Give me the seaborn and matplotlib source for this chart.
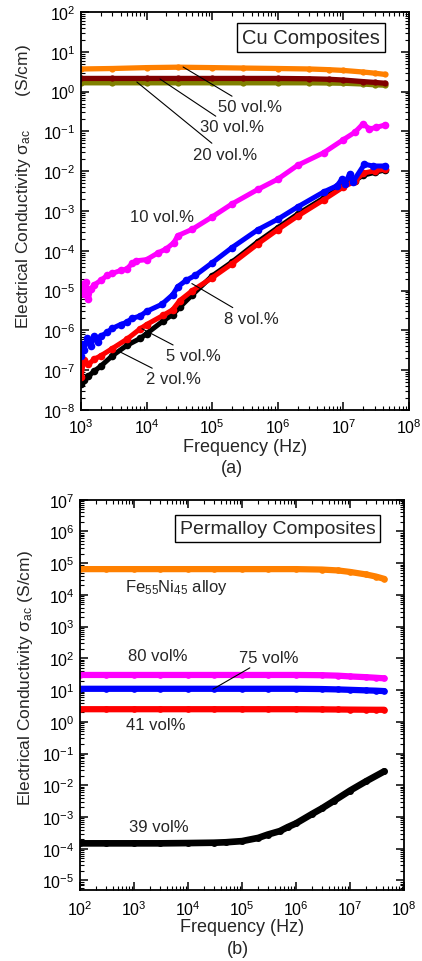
import numpy as np
import pandas as pd
import matplotlib
matplotlib.use("Agg")
import matplotlib.pyplot as plt
import matplotlib.ticker as mticker
import seaborn as sns

# ---------- datos panel (a): compuestos de Cu ----------
freq_flat = [1e3, 3e3, 1e4, 3e4, 1e5, 3e5, 1e6, 3e6, 6e6, 1e7, 2e7, 3e7, 4.3e7]
cu_50 = [3.7, 3.8, 4.0, 4.1, 4.0, 3.9, 3.8, 3.7, 3.55, 3.4, 3.1, 2.9, 2.7]
cu_30 = [2.14, 2.14, 2.14, 2.14, 2.14, 2.14, 2.14, 2.1, 2.04, 1.95, 1.78, 1.7, 1.62]
cu_20 = [1.66, 1.66, 1.66, 1.66, 1.66, 1.66, 1.66, 1.66, 1.64, 1.62, 1.55, 1.48, 1.45]

freq_10 = [1.0e3, 1.03e3, 1.1e3, 1.2e3, 1.3e3, 1.4e3, 1.6e3, 2.0e3, 2.5e3, 3e3, 4e3,
           5e3, 6e3, 7e3, 1e4, 1.5e4, 2e4, 2.6e4, 3e4, 5e4, 1e5, 2e5, 5e5, 1e6, 2e6,
           5e6, 1e7, 1.5e7, 2e7, 2.5e7, 3.2e7, 4.3e7]
cu_10 = [8.9e-6, 1.5e-5, 8.0e-6, 1.6e-5, 6.0e-6, 1.1e-5, 1.4e-5, 1.8e-5, 2.4e-5, 2.7e-5,
         3.2e-5, 3.5e-5, 4.8e-5, 5.6e-5, 6.0e-5, 8.9e-5, 1.12e-4, 1.6e-4, 2.4e-4, 3.5e-4,
         7.1e-4, 1.5e-3, 3.5e-3, 6.3e-3, 1.4e-2, 2.9e-2, 6.2e-2, 9.5e-2, 0.155, 0.115,
         0.126, 0.145]

freq_8 = [1.0e3, 1.05e3, 1.1e3, 1.25e3, 1.4e3, 1.6e3, 1.8e3, 2.0e3, 2.5e3, 3e3, 4e3,
          5e3, 6e3, 8e3, 1e4, 1.7e4, 2.5e4, 3e4, 4e4, 5.5e4, 1e5, 2e5, 5e5, 1e6, 2e6,
          5e6, 8e6, 9.5e6, 1.05e7, 1.25e7, 1.4e7, 2.1e7, 2.8e7, 4.3e7]
cu_8 = [2.3e-7, 4.5e-7, 3.2e-7, 6.3e-7, 4.0e-7, 7.1e-7, 5.0e-7, 7.1e-7, 8.9e-7, 1.12e-6,
        1.4e-6, 1.6e-6, 2.0e-6, 2.3e-6, 3.0e-6, 4.5e-6, 7.9e-6, 1.26e-5, 1.8e-5, 2.4e-5,
        5.0e-5, 1.2e-4, 3.4e-4, 6.2e-4, 1.26e-3, 3.0e-3, 4.3e-3, 6.3e-3, 4.8e-3, 8.5e-3,
        5.4e-3, 1.5e-2, 1.35e-2, 1.35e-2]

freq_low = [1.0e3, 1.1e3, 1.3e3, 1.6e3, 2e3, 3e3, 5e3, 8e3, 1.0e4, 1.8e4, 2.5e4, 3.2e4,
            5e4, 1e5, 2e5, 5e5, 1e6, 2e6, 5e6, 1e7, 1.5e7, 2e7, 3e7, 4.3e7]
cu_5 = [6.8e-8, 1.8e-7, 1.4e-7, 1.9e-7, 2.3e-7, 3.5e-7, 6.0e-7, 1.1e-6, 1.4e-6, 2.4e-6,
        3.3e-6, 5.6e-6, 1.0e-5, 2.1e-5, 4.7e-5, 1.5e-4, 3.4e-4, 7.4e-4, 1.9e-3, 4.0e-3,
        5.6e-3, 8.9e-3, 1.02e-2, 1.12e-2]
cu_2 = [4.5e-8, 5.6e-8, 7.1e-8, 9.5e-8, 1.26e-7, 2.3e-7, 4.2e-7, 6.3e-7, 8.3e-7, 1.74e-6,
        2.5e-6, 3.8e-6, 7.9e-6, 2.34e-5, 5.2e-5, 1.7e-4, 3.8e-4, 8.3e-4, 2.1e-3, 4.3e-3,
        5.8e-3, 7.9e-3, 9.3e-3, 1.07e-2]

# ---------- datos panel (b): compuestos de Permalloy ----------
freq_py = [1e2, 3e2, 1e3, 3e3, 1e4, 3e4, 1e5, 3e5, 1e6, 3e6, 6e6, 1e7, 2e7, 3e7, 4.3e7]
py_alloy = [6.5e4, 6.5e4, 6.5e4, 6.5e4, 6.5e4, 6.5e4, 6.5e4, 6.5e4, 6.5e4, 6.3e4, 5.9e4,
            5.3e4, 4.4e4, 3.8e4, 3.2e4]
py_80 = [30, 30, 30, 30, 30, 30, 30, 30, 30, 29.5, 28.5, 27, 25.5, 24.5, 23.5]
py_75 = [11, 11, 11, 11, 11, 11, 11, 11, 11, 10.8, 10.5, 10.2, 9.8, 9.6, 9.3]
py_41 = [2.5, 2.5, 2.5, 2.5, 2.5, 2.5, 2.5, 2.5, 2.5, 2.47, 2.45, 2.43, 2.41, 2.4, 2.4]

freq_39 = [1e2, 3e2, 1e3, 3e3, 1e4, 3e4, 5e4, 1e5, 2e5, 3e5, 5e5, 7e5, 1e6, 2e6, 3e6,
           5e6, 1e7, 2e7, 4.3e7]
py_39 = [1.48e-4, 1.48e-4, 1.48e-4, 1.48e-4, 1.51e-4, 1.55e-4, 1.6e-4, 1.74e-4, 2.2e-4,
         2.8e-4, 3.6e-4, 4.8e-4, 6.3e-4, 1.26e-3, 1.86e-3, 3.2e-3, 6.8e-3, 1.35e-2, 2.75e-2]

# ---------- estilo ----------
sns.set_style("ticks")
plt.rcParams["font.family"] = ["Liberation Sans", "DejaVu Sans"]
plt.rcParams["mathtext.fontset"] = "custom"
plt.rcParams["mathtext.rm"] = "Liberation Sans"
plt.rcParams["mathtext.it"] = "Liberation Sans:italic"
plt.rcParams["axes.linewidth"] = 1.3

fig = plt.figure(figsize=(4.22, 9.62), dpi=100)
ax1 = fig.add_axes([0.192, 0.5728, 0.777, 0.4137])
ax2 = fig.add_axes([0.1896, 0.0738, 0.7678, 0.4057])


def curva(ax, f, s, color, lw, ms):
    df = pd.DataFrame({"f": f, "s": s})
    sns.lineplot(data=df, x="f", y="s", ax=ax, color=color, lw=lw, marker="o",
                 markersize=ms, markeredgewidth=0, estimator=None, sort=False)


def ejes(ax, xlim, ylim, pad_x=5):
    ax.set_xscale("log")
    ax.set_yscale("log")
    ax.set_xlim(*xlim)
    ax.set_ylim(*ylim)
    for eje in (ax.xaxis, ax.yaxis):
        eje.set_major_locator(mticker.LogLocator(base=10, numticks=30))
        eje.set_minor_locator(mticker.LogLocator(base=10, subs=np.arange(2, 10), numticks=30))
        eje.set_minor_formatter(mticker.NullFormatter())
    ax.tick_params(which="both", direction="in", top=True, right=True, labelsize=11.5,
                   colors="black")
    ax.tick_params(which="major", length=6, width=1.1, pad=4)
    ax.tick_params(axis="x", which="major", pad=pad_x)
    ax.tick_params(which="minor", length=3, width=0.8)
    for sp in ax.spines.values():
        sp.set_visible(True)
        sp.set_color("black")


# ---------- panel (a) ----------
curva(ax1, freq_flat, cu_20, "#808000", 3.8, 4.5)
curva(ax1, freq_flat, cu_30, "#800000", 3.8, 4.5)
curva(ax1, freq_flat, cu_50, "#FF8000", 3.8, 4.5)
curva(ax1, freq_low, cu_2, "black", 3.6, 5.5)
curva(ax1, freq_low, cu_5, "#FF0000", 3.6, 5.5)
curva(ax1, freq_8, cu_8, "#0000FF", 3.6, 5.5)
curva(ax1, freq_10, cu_10, "#FF00FF", 3.6, 5.5)
ejes(ax1, (1e3, 1e8), (1e-8, 1e2))
ax1.set_xlabel("Frequency (Hz)", fontsize=13, labelpad=2)
ax1.set_ylabel("Electrical Conductivity σ$_{\\mathrm{ac}}$       (S/cm)", fontsize=12.5)
ax1.yaxis.set_label_coords(-0.146, 0.565)

ax1.text(0.70, 0.935, "Cu Composites", transform=ax1.transAxes, fontsize=14.5,
         ha="center", va="center",
         bbox=dict(boxstyle="square,pad=0.25", fc="white", ec="black", lw=1))

linea = dict(arrowstyle="-", lw=0.8, color="black", shrinkA=0, shrinkB=0)
ax1.annotate("50 vol.%", xy=(3.6e4, 4.15), xytext=(1.23e5, 0.41), fontsize=12,
             va="center", ha="left", arrowprops=linea)
ax1.annotate("30 vol.%", xy=(1.6e4, 2.07), xytext=(6.5e4, 0.129), fontsize=12,
             va="center", ha="left", arrowprops=linea)
ax1.annotate("20 vol.%", xy=(7.1e3, 1.74), xytext=(5.1e4, 0.027), fontsize=12,
             va="center", ha="left", arrowprops=linea)
ax1.text(5.6e3, 7.4e-4, "10 vol.%", fontsize=12, va="center", ha="left")
ax1.annotate("8 vol.%", xy=(4.9e4, 1.5e-5), xytext=(1.5e5, 2.0e-6), fontsize=12,
             va="center", ha="left", arrowprops=linea)
ax1.annotate("5 vol.%", xy=(8.5e3, 1.1e-6), xytext=(2.0e4, 2.3e-7), fontsize=12,
             va="center", ha="left", arrowprops=linea)
ax1.annotate("2 vol.%", xy=(3.9e3, 2.9e-7), xytext=(9.8e3, 6.0e-8), fontsize=12,
             va="center", ha="left", arrowprops=linea)

# ---------- panel (b) ----------
curva(ax2, freq_py, py_alloy, "#FF8000", 4.5, 4.8)
curva(ax2, freq_py, py_80, "#FF00FF", 4.5, 4.8)
curva(ax2, freq_py, py_75, "#0000FF", 4.5, 4.8)
curva(ax2, freq_py, py_41, "#FF0000", 4.5, 4.8)
curva(ax2, freq_39, py_39, "black", 4.8, 5)
ejes(ax2, (1e2, 1e8), (10 ** -5.3, 1e7), pad_x=6.5)
ax2.set_xlabel("Frequency (Hz)", fontsize=13, labelpad=0)
ax2.set_ylabel("Electrical Conductivity σ$_{\\mathrm{ac}}$ (S/cm)", fontsize=12.5)
ax2.yaxis.set_label_coords(-0.139, 0.545)

ax2.text(0.61, 0.926, "Permalloy Composites", transform=ax2.transAxes, fontsize=14,
         ha="center", va="center",
         bbox=dict(boxstyle="square,pad=0.25", fc="white", ec="black", lw=1))
ax2.text(6.8e2, 1.9e4, "Fe$_{55}$Ni$_{45}$ alloy", fontsize=12, va="center", ha="left")
ax2.text(7.7e2, 1.2e2, "80 vol%", fontsize=12, va="center", ha="left")
ax2.annotate("75 vol%", xy=(2.9e4, 10.7), xytext=(8.7e4, 1.1e2), fontsize=12,
             va="center", ha="left", arrowprops=linea)
ax2.text(7.1e2, 0.83, "41 vol%", fontsize=12, va="center", ha="left")
ax2.text(8.1e2, 5.1e-4, "39 vol%", fontsize=12, va="center", ha="left")

fig.text(0.55, 0.5125, "(a)", fontsize=13, ha="center", va="center")
fig.text(0.564, 0.0125, "(b)", fontsize=13, ha="center", va="center")

fig.savefig("out.png", dpi=100)
